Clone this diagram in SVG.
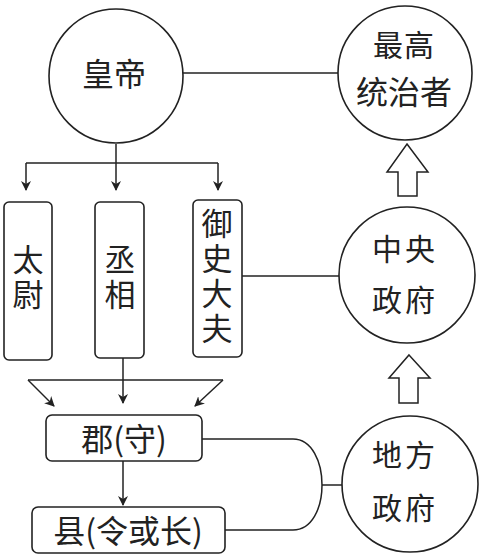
<svg xmlns="http://www.w3.org/2000/svg" width="481" height="559" viewBox="0 0 481 559">
<defs>
<style>
.n{fill:#fff;stroke:#222;stroke-width:1.6}
.c{fill:none;stroke:#222;stroke-width:1.5}
.t{font-family:"Noto Sans CJK SC","Noto Sans CJK TC",sans-serif;font-size:30px;fill:#222;text-anchor:middle;dominant-baseline:central}
.v{font-size:31px;writing-mode:vertical-rl;letter-spacing:4px;text-orientation:upright}
</style>
<marker id="ah" viewBox="0 0 10 10" refX="9" refY="5" markerWidth="10" markerHeight="10" markerUnits="userSpaceOnUse" orient="auto">
<path d="M0,0 L10,5 L0,10 L3,5 Z" fill="#222"/>
</marker>
</defs>
<rect width="481" height="559" fill="#fff"/>
<g id="connectors">
<line class="c" x1="183" y1="73" x2="338" y2="73"/>
<line class="c" x1="116" y1="144" x2="116" y2="163"/>
<line class="c" x1="26" y1="163" x2="218" y2="163"/>
<line class="c" x1="26" y1="163" x2="26" y2="190" marker-end="url(#ah)"/>
<line class="c" x1="116" y1="163" x2="116" y2="190" marker-end="url(#ah)"/>
<line class="c" x1="218" y1="163" x2="218" y2="190" marker-end="url(#ah)"/>
<line class="c" x1="242" y1="276" x2="339" y2="276"/>
<line class="c" x1="123" y1="358" x2="123" y2="403" marker-end="url(#ah)"/>
<line class="c" x1="28" y1="380" x2="223" y2="380"/>
<line class="c" x1="28" y1="380" x2="54" y2="406" marker-end="url(#ah)"/>
<line class="c" x1="223" y1="380" x2="195" y2="406" marker-end="url(#ah)"/>
<line class="c" x1="123" y1="461" x2="123" y2="505" marker-end="url(#ah)"/>
<path class="c" d="M202,439 L293,439 C312,439 322,462 322,485 C322,508 312,530 293,530 L225,530"/>
<line class="c" x1="322" y1="485" x2="342" y2="485"/>
<path class="c" d="M407,144 L428,172 L417,172 L417,196 L398,196 L398,172 L387,172 Z"/>
<path class="c" d="M409,355 L430,378 L418,378 L418,403 L399,403 L399,378 L389,378 Z"/>
</g>
<g id="huangdi">
<circle class="n" cx="116" cy="76" r="67"/>
<text class="t" x="114" y="72" style="font-size:32px">皇帝</text>
</g>
<g id="zuigao">
<circle class="n" cx="405" cy="73" r="67"/>
<text class="t" x="404" y="43" style="letter-spacing:1px">最高</text>
<text class="t" x="404" y="90" style="font-size:32px">统治者</text>
</g>
<g id="zhongyang">
<circle class="n" cx="407" cy="275" r="68"/>
<text class="t" x="405" y="247" style="letter-spacing:3px">中央</text>
<text class="t" x="405" y="298" style="letter-spacing:3px">政府</text>
</g>
<g id="difang">
<circle class="n" cx="410" cy="484" r="68"/>
<text class="t" x="405" y="453" style="letter-spacing:3px">地方</text>
<text class="t" x="405" y="506" style="letter-spacing:3px">政府</text>
</g>
<g id="taiwei">
<rect class="n" x="4" y="202" width="48" height="158" rx="5"/>
<text class="t v" x="28" y="279">太尉</text>
</g>
<g id="chengxiang">
<rect class="n" x="95" y="202" width="49" height="156" rx="5"/>
<text class="t v" x="120" y="279">丞相</text>
</g>
<g id="yushidafu">
<rect class="n" x="193" y="200" width="49" height="157" rx="5"/>
<text class="t v" x="217" y="278">御史大夫</text>
</g>
<g id="jun">
<rect class="n" x="46" y="415" width="156" height="46" rx="6"/>
<text class="t" x="124" y="437" style="font-size:32px">郡(守)</text>
</g>
<g id="xian">
<rect class="n" x="32" y="507" width="193" height="46" rx="6"/>
<text class="t" x="128" y="529" style="font-size:32px">县(令或长)</text>
</g>
</svg>
